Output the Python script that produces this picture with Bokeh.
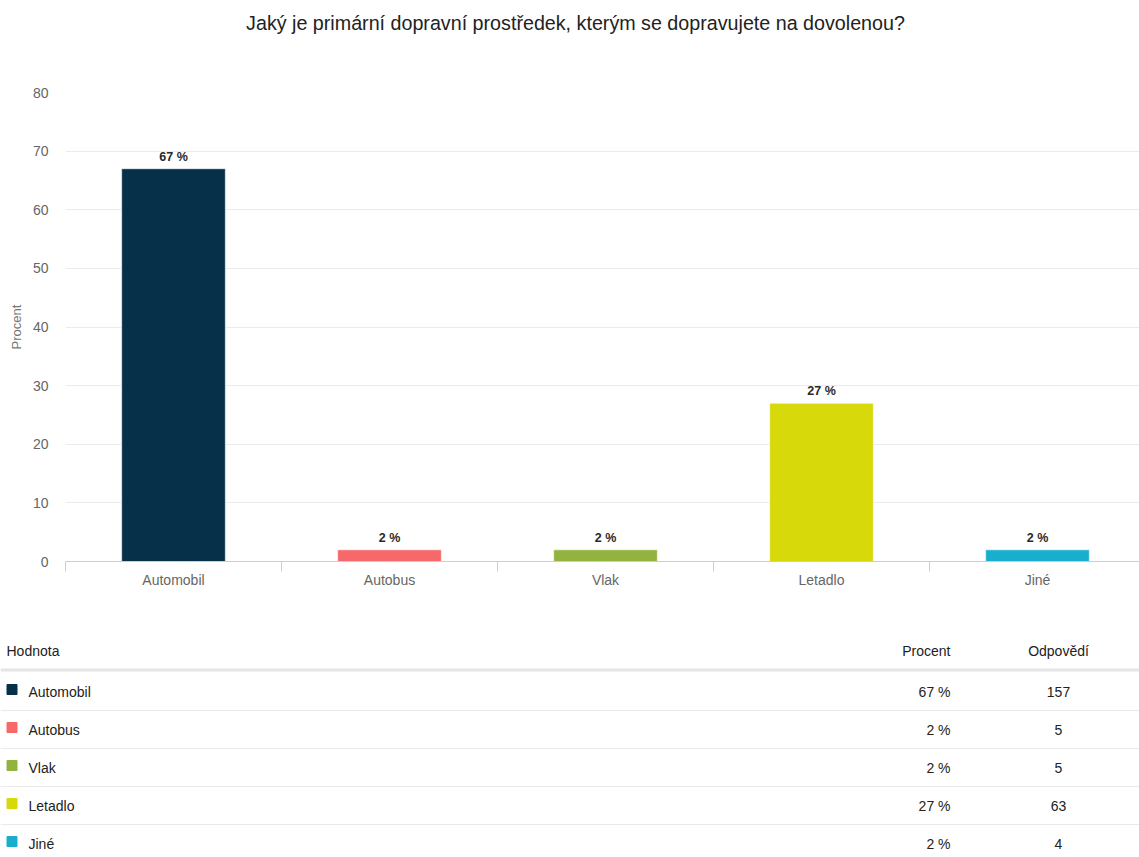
from bokeh.plotting import figure
from bokeh.models import Range1d, FixedTicker, ColumnDataSource
from bokeh.embed import file_html
from bokeh.resources import INLINE
from bokeh.core.properties import value

# ---- data ----
title_text = "Jaký je primární dopravní prostředek, kterým se dopravujete na dovolenou?"
categories = ["Automobil", "Autobus", "Vlak", "Letadlo", "Jiné"]
percent = [67, 2, 2, 27, 2]
counts = [157, 5, 5, 63, 4]
colors = ["#06304A", "#F6686A", "#92B43E", "#D7D90B", "#1AAECE"]
y_ticks = [0, 10, 20, 30, 40, 50, 60, 70, 80]
y_label = "Procent"
table_headers = ["Hodnota", "Procent", "Odpovědí"]

FONT = "Liberation Sans"
n = len(categories)
xs = list(range(n))
W = 1139


def blank_fig(height, y0):
    f = figure(width=W, height=height, output_backend="svg", toolbar_location=None,
               x_range=Range1d(0, W), y_range=Range1d(y0 + height, y0),
               min_border=0, min_border_left=0, min_border_right=0,
               min_border_top=0, min_border_bottom=0,
               x_axis_type=None, y_axis_type=None)
    f.outline_line_color = None
    f.xgrid.visible = False
    f.ygrid.visible = False
    return f


# ---- title strip ----
H0 = 50
tt = blank_fig(H0, 0)
tt.text(x=[575], y=[22], text=[title_text], text_align="center", text_baseline="middle",
        text_font=value(FONT), text_font_size="19.7px", text_color="#222222")

# ---- chart ----
H1 = 630 - H0
frame_left, frame_right = 65, W
cat_px = 216.0
x_end = -0.5 + (frame_right - frame_left) / cat_px

p = figure(width=W, height=H1, output_backend="svg", toolbar_location=None,
           x_range=Range1d(-0.5, x_end), y_range=Range1d(0, max(y_ticks)),
           min_border_left=frame_left, min_border_right=0, min_border_top=92 - H0,
           min_border_bottom=69)
p.outline_line_color = None
p.background_fill_color = "white"
p.border_fill_color = "white"

src = ColumnDataSource(dict(x=xs, top=percent, color=colors,
                            lbl=[f"{v} %" for v in percent]))
p.vbar(x="x", top="top", width=0.48, bottom=0, color="color",
       line_color="white", line_alpha=0.6, source=src)
p.text(x="x", y="top", text="lbl", source=src, y_offset=-5,
       text_align="center", text_baseline="bottom",
       text_font=value(FONT), text_font_size="12.5px",
       text_font_style="bold", text_color="#2A2A2A")

# x axis
xa = p.xaxis[0]
xa.ticker = FixedTicker(ticks=xs, minor_ticks=[i - 0.5 for i in range(n + 1)])
xa.major_label_overrides = {i: c for i, c in enumerate(categories)}
xa.axis_line_color = "#C0D0E0"
xa.major_tick_out = 0
xa.major_tick_in = 0
xa.minor_tick_out = 10
xa.minor_tick_in = 0
xa.minor_tick_line_color = "#C0D0E0"
xa.major_label_standoff = 0
xa.major_label_text_font = FONT
xa.major_label_text_font_size = "14px"
xa.major_label_text_color = "#666666"

# y axis
ya = p.yaxis[0]
ya.ticker = FixedTicker(ticks=y_ticks)
ya.axis_line_color = None
ya.major_tick_line_color = None
ya.minor_tick_line_color = None
ya.major_tick_out = 0
ya.major_tick_in = 0
ya.minor_tick_out = 0
ya.minor_tick_in = 0
ya.major_label_standoff = 17
ya.major_label_text_font = FONT
ya.major_label_text_font_size = "14px"
ya.major_label_text_color = "#666666"
ya.axis_label = y_label
ya.axis_label_text_font = FONT
ya.axis_label_text_font_size = "13px"
ya.axis_label_text_font_style = "normal"
ya.axis_label_text_color = "#777777"
ya.axis_label_standoff = 6

p.xgrid.grid_line_color = None
p.ygrid.grid_line_color = "#EBEBEB"
p.ygrid.ticker = FixedTicker(ticks=y_ticks)

# ---- table ----
H2 = 227
t = blank_fig(H2, 630)

col_name_x, col_pct_x, col_cnt_x = 6, 950, 1058
header_y = 650
row0_y, row_h = 691.5, 38.0
TXT = dict(text_baseline="middle", text_font=value(FONT), text_font_size="14px",
           text_color="#222222")

t.text(x=[col_name_x], y=[header_y], text=[table_headers[0]], text_align="left", **TXT)
t.text(x=[col_pct_x], y=[header_y], text=[table_headers[1]], text_align="right", **TXT)
t.text(x=[col_cnt_x], y=[header_y], text=[table_headers[2]], text_align="center", **TXT)
t.segment(x0=[0], x1=[W], y0=[669.5], y1=[669.5], line_color="#E6E6E6", line_width=3)

row_y = [row0_y + i * row_h for i in range(n)]
sep_y = [y + 18.5 for y in row_y[:-1]]
t.segment(x0=[0] * len(sep_y), x1=[W] * len(sep_y), y0=sep_y, y1=sep_y,
          line_color="#EAEAEA", line_width=1)

tsrc = ColumnDataSource(dict(
    y=row_y, ym=[y - 2.5 for y in row_y], name=categories, color=colors,
    pct=[f"{v} %" for v in percent], cnt=[str(c) for c in counts]))
t.scatter(x=11.5, y="ym", marker="square", size=10, color="color", source=tsrc)
t.text(x=28, y="y", text="name", source=tsrc, text_align="left", **TXT)
t.text(x=col_pct_x, y="y", text="pct", source=tsrc, text_align="right", **TXT)
t.text(x=col_cnt_x, y="y", text="cnt", source=tsrc, text_align="center", **TXT)

open("out.html", "w").write(file_html([tt, p, t], INLINE))
